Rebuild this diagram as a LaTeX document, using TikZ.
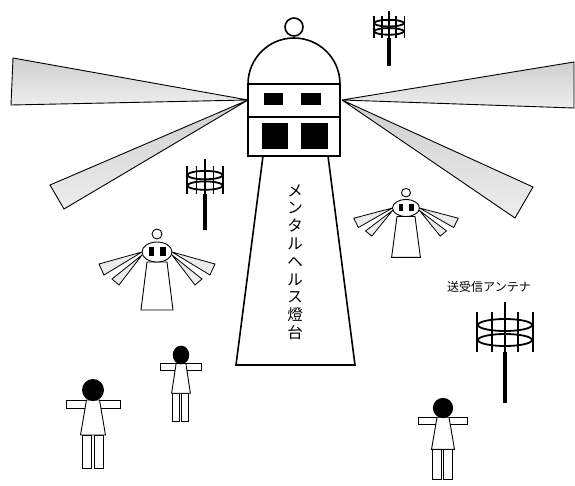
\documentclass[tikz,border=0pt]{standalone}
\usepackage{fontspec}
\newfontfamily\jpfont{Noto Sans CJK JP}

\begin{document}
\begin{tikzpicture}[
  x=1pt, y=1pt,
  outline/.style={draw, line width=1.6pt, fill=white},
  beam/.style={draw, line width=0.9pt, top color=gray!38, bottom color=gray!14},
  ray/.style={draw, line width=0.8pt, fill=gray!15},
  thin/.style={draw, line width=0.9pt, fill=white},
  rod/.style={line width=1.8pt},
  antenna/.pic={
    \draw[line width=2.2pt] (0,30) -- (0,-20);
    \draw[line width=3.4pt] (0,-20) -- (0,-71);
    \foreach \vx in {-28,-13,13,28}
      \draw[rod] (\vx,20) -- (\vx,-20);
    \draw[rod] (0,7) ellipse [x radius=27, y radius=6];
    \draw[rod] (0,-8) ellipse [x radius=27, y radius=6];
  },
  spirit/.pic={
    \foreach \s in {-1,1} {
      \draw[ray] (\s*15,0) -- (\s*58,-12) -- (\s*53,-23) -- cycle;
      \draw[ray] (\s*15,-3) -- (\s*45,-27) -- (\s*38,-33) -- cycle;
    }
    \draw[thin] (0,18) circle (5);
    \draw[thin] (-10,-10) -- (10,-10) -- (16,-58) -- (-16,-58) -- cycle;
    \draw[thin] (0,0) ellipse [x radius=15, y radius=10];
    \fill (-8,-4) rectangle (-3,5);
    \fill (3,-4) rectangle (9,5);
  },
  person/.pic={
    \draw[thin] (-27,-10) rectangle (27,-18);
    \draw[thin] (-11,-45) rectangle (-2,-78);
    \draw[thin] (1,-45) rectangle (10,-78);
    \draw[thin] (-6.5,-10) -- (6.5,-10) -- (12.5,-45) -- (-12.5,-45) -- cycle;
    \fill (0,0) circle (11);
  }
]
  \useasboundingbox (0,0) rectangle (575,-485);

  % light beams from the lamp room
  \coordinate (lampL) at (248,-100);
  \coordinate (lampR) at (342,-100);
  \draw[beam] (lampL) -- (13,-58) -- (11,-105) -- cycle;
  \draw[beam] (lampL) -- (50,-185) -- (64,-209) -- cycle;
  \draw[beam] (lampR) -- (574,-62) -- (574,-108) -- cycle;
  \draw[beam] (lampR) -- (533,-187) -- (515,-218) -- cycle;

  % lighthouse
  \draw[outline] (263,-156) -- (236,-365) -- (355,-365) -- (328,-156) -- cycle;
  \draw[outline] (294,-27) circle (9);
  \draw[outline] (248,-84) arc[start angle=180, end angle=0, radius=46] -- cycle;
  \draw[outline] (248,-84) rectangle (340,-156);
  \draw[line width=1.6pt] (248,-117) -- (340,-117);
  \fill (264,-93) rectangle (283,-105);
  \fill (301,-93) rectangle (321,-105);
  \fill (262,-123) rectangle (288,-149);
  \fill (301,-123) rectangle (328,-149);
  \node[font=\jpfont\fontsize{15.5}{17.8}\selectfont, align=center, inner sep=0pt]
    (lhname) at (295,-262) {メ\\ン\\タ\\ル\\ヘ\\ル\\ス\\燈\\台};

  % antennas
  \pic[scale=0.55] (antTop) at (389,-27) {antenna};
  \pic[xscale=0.65, yscale=0.7] (antMid) at (205,-180) {antenna};
  \pic (antBig) at (505,-332) {antenna};
  \node[font=\jpfont\fontsize{12}{14}\selectfont, inner sep=0pt]
    (antlabel) at (489,-287) {送受信アンテナ};

  % small lighthouses
  \pic (spiritL) at (157,-252) {spirit};
  \pic[xscale=0.9, yscale=0.85] (spiritR) at (406,-208) {spirit};

  % people
  \pic (manA) at (93,-390) {person};
  \pic[xscale=0.75, yscale=0.85] (manB) at (181,-355) {person};
  \pic[scale=0.92] (manC) at (443,-408) {person};
\end{tikzpicture}
\end{document}
